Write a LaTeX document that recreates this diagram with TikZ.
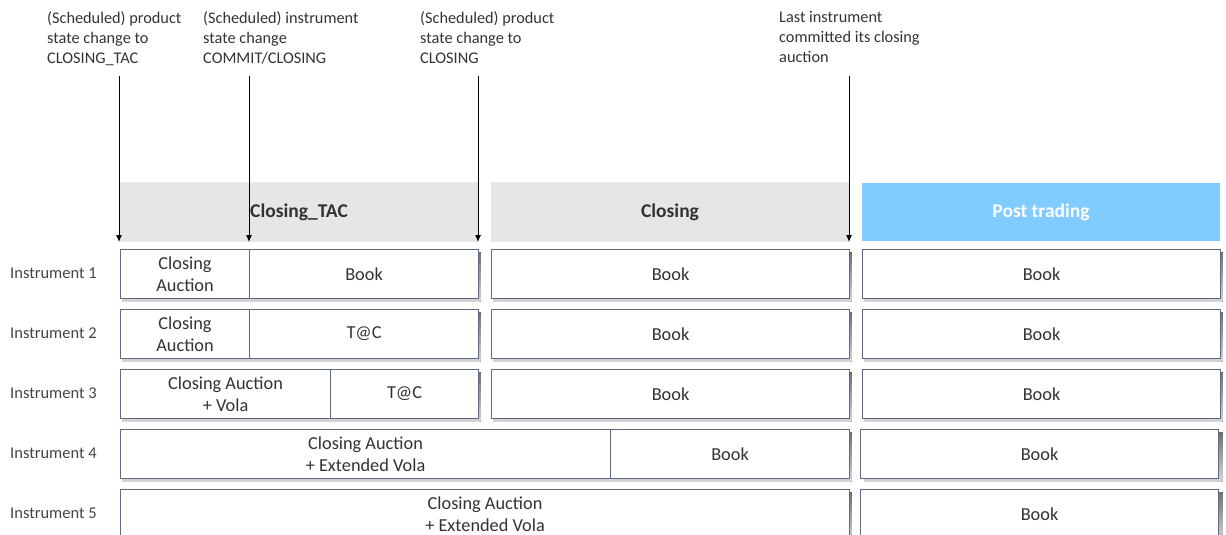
\documentclass[tikz,border=0pt]{standalone}
\usepackage{fontspec}
\setmainfont{Carlito}
\usetikzlibrary{arrows.meta}
\definecolor{txt}{HTML}{333333}
\definecolor{lbl}{HTML}{444444}
\definecolor{edge}{HTML}{5F6A82}
\definecolor{band}{HTML}{E6E6E6}
\definecolor{sky}{HTML}{80CBFF}
\definecolor{shade}{HTML}{A8ADB6}
\tikzset{
  note/.style={anchor=north west, inner sep=0pt, align=left, text=txt,
    font=\fontsize{16.3}{20}\selectfont},
  phase/.style={anchor=north west, inner sep=0pt, minimum width=358pt, minimum height=60pt},
  phasetext/.style={font=\fontsize{19.5}{22}\selectfont\bfseries, text=txt},
  cell/.style={draw=edge, line width=1.1pt, fill=white, anchor=north west, inner sep=0pt,
    minimum height=49pt, align=center, text=txt, font=\fontsize{18.3}{22}\selectfont},
  rowlabel/.style={anchor=west, inner sep=0pt, text=lbl, font=\fontsize{16.5}{18}\selectfont},
  event/.style={-{Latex[length=7pt,width=6pt]}, line width=1pt, black},
}
\newcommand{\cellshadow}[3]{% x-left, x-right, y-top
  \fill[shade, opacity=0.8] (#1+2,#3+3) rectangle (#2+2.5,#3+52.5);}
\begin{document}
\begin{tikzpicture}[x=1pt,y=-1pt]
\useasboundingbox (0,0) rectangle (1226,535);
\clip (0,0) rectangle (1226,535);

% phase bands
\node[phase, fill=band] (tac) at (120,182) {};
\node[phase, fill=band] (cls) at (491,182) {};
\node[phase, fill=sky, minimum height=58pt] (post) at (862,183) {};
\node[phasetext] (tacname) at (299,212) {Closing\_TAC};
\node[phasetext] (clsname) at (670,212) {Closing};
\node[phasetext, text=white] (postname) at (1041,212) {Post trading};

% event notes
\node[note] (n1) at (47,11) {(Scheduled) product\\state change to\\CLOSING\_TAC};
\node[note] (n2) at (203,11) {(Scheduled) instrument\\state change\\COMMIT/CLOSING};
\node[note] (n3) at (420,11) {(Scheduled) product\\state change to\\CLOSING};
\node[note] (n4) at (779,11) {Last instrument\\committed its closing\\auction};

% shadows of the row boxes
\foreach \r in {0,...,4}{
  \pgfmathsetmacro{\yt}{249+60*\r}
  \cellshadow{862}{1220}{\yt}
}
\foreach \r in {0,1,2}{
  \pgfmathsetmacro{\yt}{249+60*\r}
  \cellshadow{120}{478}{\yt}
  \cellshadow{491}{849}{\yt}
}
\cellshadow{120}{849}{429}
\cellshadow{120}{849}{489}

% row labels
\foreach \r in {1,...,5}{
  \node[rowlabel] (lab\r) at (10,{273.5+60*(\r-1)}) {Instrument \r};
}

% instrument 1
\node[cell, minimum width=129pt] (a1) at (120,249) {Closing\\Auction};
\node[cell, minimum width=229pt] (b1) at (249,249) {Book};
\node[cell, minimum width=358pt] (c1) at (491,249) {Book};
\node[cell, minimum width=358pt] (d1) at (862,249) {Book};
% instrument 2
\node[cell, minimum width=129pt] (a2) at (120,309) {Closing\\Auction};
\node[cell, minimum width=229pt] (b2) at (249,309) {T@C};
\node[cell, minimum width=358pt] (c2) at (491,309) {Book};
\node[cell, minimum width=358pt] (d2) at (862,309) {Book};
% instrument 3
\node[cell, minimum width=210pt] (a3) at (120,369) {Closing Auction\\+ Vola};
\node[cell, minimum width=148pt] (b3) at (330,369) {T@C};
\node[cell, minimum width=358pt] (c3) at (491,369) {Book};
\node[cell, minimum width=358pt] (d3) at (862,369) {Book};
% instrument 4
\node[cell, minimum width=490pt] (a4) at (120,429) {Closing Auction\\+ Extended Vola};
\node[cell, minimum width=239pt] (b4) at (610,429) {Book};
\node[cell, minimum width=358pt] (d4) at (860,429) {Book};
% instrument 5
\node[cell, minimum width=729pt] (a5) at (120,489) {Closing Auction\\+ Extended Vola};
\node[cell, minimum width=358pt] (d5) at (860,489) {Book};

% event arrows
\coordinate (s1) at (119,76);  \coordinate (e1) at (119,242);
\coordinate (s2) at (249,76);  \coordinate (e2) at (249,242);
\coordinate (s3) at (478,76);  \coordinate (e3) at (478,242);
\coordinate (s4) at (849,76);  \coordinate (e4) at (849,242);
\draw[event] (s1) -- (e1);
\draw[event] (s2) -- (e2);
\draw[event] (s3) -- (e3);
\draw[event] (s4) -- (e4);
\end{tikzpicture}
\end{document}
